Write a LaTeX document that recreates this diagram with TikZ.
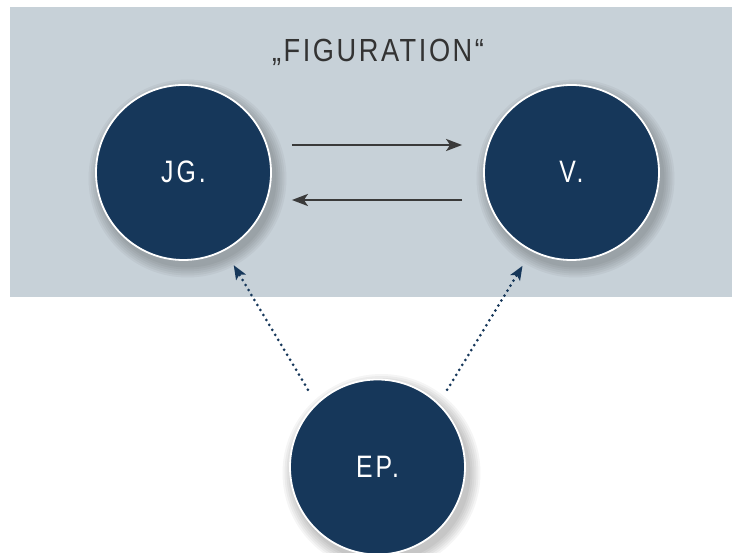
\documentclass[tikz,border=0pt]{standalone}
\usepackage{fontspec}
\setmainfont{Liberation Sans}
\newfontfamily\titlefont[LetterSpace=8,FakeStretch=0.85]{Liberation Sans}
\newfontfamily\labelfont[LetterSpace=10,FakeStretch=0.8]{Liberation Sans}
\usetikzlibrary{arrows.meta,calc}
\definecolor{bgGray}{HTML}{C7D1D8}
\definecolor{navy}{HTML}{16375A}
\definecolor{arrGray}{HTML}{3A3A3A}
\definecolor{txtGray}{HTML}{333333}
\tikzset{
  person/.style={circle, fill=navy, draw=white, line width=1.8pt, minimum size=175pt,
    inner sep=0pt, text=white, font=\labelfont\fontsize{31}{31}\selectfont,
    text height=21pt, text depth=0pt},
  flow/.style={draw=arrGray, line width=2.4pt, -{Stealth[length=16pt,width=12pt,inset=4pt]}},
  influence/.style={draw=navy, line width=3pt, line cap=round, dash pattern=on 0pt off 5.8pt,
    -{Stealth[length=14pt,width=11pt,inset=3pt,line cap=butt]}},
  shadowring/.style={fill=black, opacity=0.04}
}
\begin{document}
\begin{tikzpicture}[x=1pt,y=-1pt]
\useasboundingbox (0,0) rectangle (732,553);
\fill[white] (0,0) rectangle (732,553);
\fill[bgGray] (10,7) rectangle (732,297);
\node[text=txtGray, anchor=base, font=\titlefont\fontsize{32}{32}\selectfont] (title) at (378,62) {„FIGURATION“};
\coordinate (cJG) at (183.5,172.5);
\coordinate (cV) at (571.5,172.5);
\coordinate (cEP) at (377.5,467);
% soft drop shadows
\foreach \c in {cJG,cV,cEP}{
  \foreach \r in {99,97,95,93,91,89}{
    \fill[shadowring] ($(\c)+(4,6)$) circle[radius=\r];
  }
}
\node[person] (JG) at (cJG) {JG.};
\node[person] (V) at (cV) {V.};
\node[person] (EP) at (cEP) {EP.};
\draw[flow, shorten <=20pt, shorten >=21pt] ([yshift=27.5pt]JG.east) -- ([yshift=27.5pt]V.west);
\draw[flow, shorten <=21pt, shorten >=20pt] ([yshift=-27.5pt]V.west) -- ([yshift=-27.5pt]JG.east);
\draw[influence, shorten <=16pt, shorten >=17pt] (EP.134) -- (JG.-62.6);
\draw[influence, shorten <=16pt, shorten >=17pt] (EP.46) -- (V.-117.4);
\end{tikzpicture}
\end{document}
